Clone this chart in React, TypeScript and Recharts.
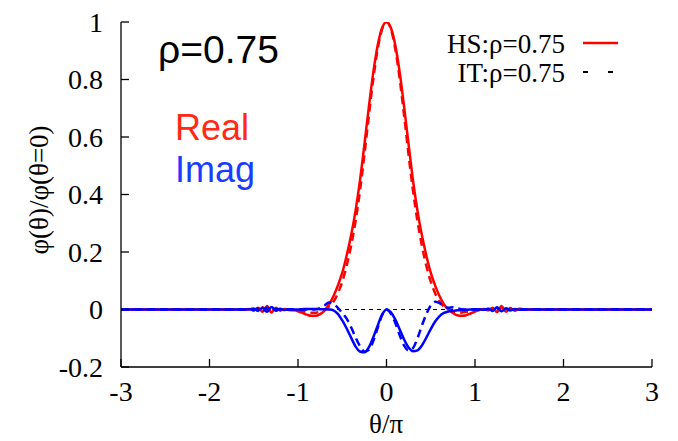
import { LineChart, Line, XAxis, YAxis } from 'recharts';

// θ/π grid (curves are flat zero outside ±1.6)
const THETA = [
  -3, -1.6, -1.55, -1.5, -1.45, -1.4, -1.35, -1.3, -1.25, -1.2, -1.15, -1.1, -1.05,
  -1.0, -0.95, -0.9, -0.85, -0.8, -0.75, -0.7, -0.65, -0.6, -0.55, -0.5, -0.45, -0.4,
  -0.35, -0.3, -0.25, -0.2, -0.15, -0.1, -0.05, 0, 0.05, 0.1, 0.15, 0.2, 0.25, 0.3,
  0.35, 0.4, 0.45, 0.5, 0.55, 0.6, 0.65, 0.7, 0.75, 0.8, 0.85, 0.9, 0.95, 1.0, 1.05,
  1.1, 1.15, 1.2, 1.25, 1.3, 1.35, 1.4, 1.45, 1.5, 1.55, 1.6, 3,
];

// Real part, HS (solid red)
const REAL_HS = [
  0, 0, 0.002, -0.004, 0.006, -0.008, 0.012, -0.01, 0.006, -0.004, 0.002, -0.002, -0.003,
  -0.006, -0.012, -0.018, -0.022, -0.022, -0.016, -0.004, 0.018, 0.046, 0.083, 0.128, 0.188, 0.258,
  0.343, 0.448, 0.573, 0.703, 0.823, 0.918, 0.979, 1.0, 0.979, 0.918, 0.823, 0.703, 0.573, 0.448,
  0.343, 0.258, 0.188, 0.128, 0.083, 0.046, 0.018, 0.0, -0.012, -0.02, -0.022, -0.02, -0.014, -0.007, -0.002,
  0.002, -0.003, 0.006, -0.009, 0.012, -0.008, 0.005, -0.004, 0.003, 0, 0, 0,
];

// Real part, IT (dashed red)
const REAL_IT = [
  0, 0, 0, 0.003, -0.005, 0.008, -0.006, 0.004, -0.003, 0.002, 0, 0, -0.001,
  -0.003, -0.006, -0.009, -0.011, -0.011, -0.008, -0.001, 0.01, 0.027, 0.056, 0.097, 0.152, 0.222,
  0.307, 0.412, 0.537, 0.672, 0.8, 0.905, 0.975, 1.0, 0.975, 0.905, 0.8, 0.672, 0.537, 0.412,
  0.307, 0.222, 0.152, 0.097, 0.056, 0.027, 0.01, 0, -0.007, -0.01, -0.01, -0.008, -0.005, -0.002, 0,
  0.001, -0.002, 0.004, -0.006, 0.008, -0.005, 0.003, -0.002, 0.002, 0, 0, 0,
];

// Imaginary part, HS (solid blue)
const IMAG_HS = [
  0, 0, 0, 0.003, -0.004, 0.006, -0.008, 0.009, -0.004, 0.003, -0.002, 0.001, 0,
  0, 0.001, 0.002, 0.002, 0.002, 0.001, 0.001, 0, -0.003, -0.015, -0.038, -0.066, -0.098,
  -0.128, -0.146, -0.149, -0.132, -0.097, -0.056, -0.018, 0, -0.01, -0.035, -0.07, -0.105, -0.132, -0.145,
  -0.142, -0.125, -0.098, -0.068, -0.042, -0.023, -0.012, -0.007, -0.005, -0.003, -0.002, -0.001, 0, 0.001, 0,
  -0.001, 0.003, -0.005, 0.008, -0.006, 0.004, -0.003, 0.002, -0.001, 0, 0, 0,
];

// Imaginary part, IT (dashed blue)
const IMAG_IT = [
  0, 0, 0, -0.002, 0.004, -0.005, 0.007, -0.004, 0.002, 0, 0, 0, 0,
  0, 0, 0, 0, 0.001, 0.005, 0.014, 0.024, 0.02, 0.006, -0.012, -0.032, -0.062,
  -0.097, -0.127, -0.146, -0.141, -0.11, -0.065, -0.02, 0, -0.015, -0.047, -0.09, -0.126, -0.143, -0.134,
  -0.1, -0.056, -0.016, 0.014, 0.027, 0.022, 0.011, 0.006, 0.008, 0.004, 0.001, 0, 0, 0, 0,
  0, 0.002, -0.004, 0.006, -0.005, 0.003, -0.002, 0.001, 0, 0, 0, 0,
];

const X_TICKS = [-3, -2, -1, 0, 1, 2, 3];
const Y_TICKS = [-0.2, 0, 0.2, 0.4, 0.6, 0.8, 1];
const ZERO_LINE = [
  { t: -3, v: 0 },
  { t: 3, v: 0 },
];

const data = THETA.map((t, i) => ({
  t,
  realHS: REAL_HS[i],
  realIT: REAL_IT[i],
  imagHS: IMAG_HS[i],
  imagIT: IMAG_IT[i],
}));

const SERIF = '"Liberation Serif", "Times New Roman", serif';
const SANS = '"Liberation Sans", Arial, sans-serif';
const tickStyle = { fontSize: 28, fill: '#000', fontFamily: SERIF };

export default function App() {
  return (
    <div style={{ position: 'absolute', left: 0, top: 0, width: 678, height: 441, background: '#fff' }}>
      <LineChart
        width={678}
        height={441}
        data={data}
        margin={{ top: 22, right: 26, bottom: 34, left: 61 }}
      >
        <XAxis
          dataKey="t"
          type="number"
          domain={[-3, 3]}
          ticks={X_TICKS}
          interval={0}
          allowDataOverflow
          height={40}
          tick={tickStyle}
          tickSize={-8}
          tickMargin={22}
          stroke="#000"
          axisLine={{ stroke: '#000', strokeWidth: 1.3 }}
          tickLine={{ stroke: '#000', strokeWidth: 1.3 }}
        />
        <XAxis
          xAxisId="top"
          orientation="top"
          dataKey="t"
          type="number"
          domain={[-3, 3]}
          ticks={X_TICKS}
          interval={0}
          allowDataOverflow
          height={0}
          tick={false}
          tickSize={-8}
          axisLine={{ stroke: '#000', strokeWidth: 1.3 }}
          tickLine={{ stroke: '#000', strokeWidth: 1.3 }}
        />
        <YAxis
          type="number"
          domain={[-0.2, 1]}
          ticks={Y_TICKS}
          interval={0}
          allowDataOverflow
          width={60}
          tick={tickStyle}
          tickSize={-8}
          tickMargin={26}
          axisLine={{ stroke: '#000', strokeWidth: 1.3 }}
          tickLine={{ stroke: '#000', strokeWidth: 1.3 }}
        />
        <YAxis
          yAxisId="right"
          orientation="right"
          type="number"
          domain={[-0.2, 1]}
          ticks={Y_TICKS}
          interval={0}
          allowDataOverflow
          width={0}
          tick={false}
          tickSize={-8}
          axisLine={{ stroke: '#000', strokeWidth: 1.3 }}
          tickLine={{ stroke: '#000', strokeWidth: 1.3 }}
        />
        <Line
          xAxisId="top"
          yAxisId="right"
          data={ZERO_LINE}
          dataKey="v"
          stroke="#000"
          strokeWidth={1}
          strokeDasharray="4 4"
          dot={false}
          isAnimationActive={false}
        />
        <Line type="monotone" dataKey="realHS" stroke="#ff0000" strokeWidth={2.5} dot={false} isAnimationActive={false} />
        <Line type="monotone" dataKey="realIT" stroke="#ff0000" strokeWidth={2.5} strokeDasharray="8 5" dot={false} isAnimationActive={false} />
        <Line type="monotone" dataKey="imagIT" stroke="#0000ff" strokeWidth={2.5} strokeDasharray="8 5" dot={false} isAnimationActive={false} />
        <Line type="monotone" dataKey="imagHS" stroke="#0000ff" strokeWidth={2.5} dot={false} isAnimationActive={false} />
      </LineChart>

      <svg width={678} height={441} style={{ position: 'absolute', left: 0, top: 0, pointerEvents: 'none' }}>
        <text x={158} y={63} fontFamily={SANS} fontSize={39} fill="#000">ρ=0.75</text>
        <text x={175} y={140} fontFamily={SANS} fontSize={36} fill="#ff2a14">Real</text>
        <text x={175} y={182} fontFamily={SANS} fontSize={36} fill="#1a3cff">Imag</text>

        <text x={565} y={53} textAnchor="end" fontFamily={SERIF} fontSize={27} fill="#000">HS:ρ=0.75</text>
        <line x1={583} y1={43} x2={618} y2={43} stroke="#ff0000" strokeWidth={2.5} />
        <text x={565} y={82} textAnchor="end" fontFamily={SERIF} fontSize={27} fill="#000">IT:ρ=0.75</text>
        <line x1={583} y1={72} x2={618} y2={72} stroke="#000" strokeWidth={2} strokeDasharray="5 20" />

        <text
          x={39}
          y={190}
          transform="rotate(-90 39 190)"
          textAnchor="middle"
          dominantBaseline="central"
          fontFamily={SERIF}
          fontSize={27}
          fill="#000"
        >
          φ(θ)/φ(θ=0)
        </text>
        <text x={386} y={433} textAnchor="middle" fontFamily={SERIF} fontSize={27} fill="#000">θ/π</text>
      </svg>
    </div>
  );
}
